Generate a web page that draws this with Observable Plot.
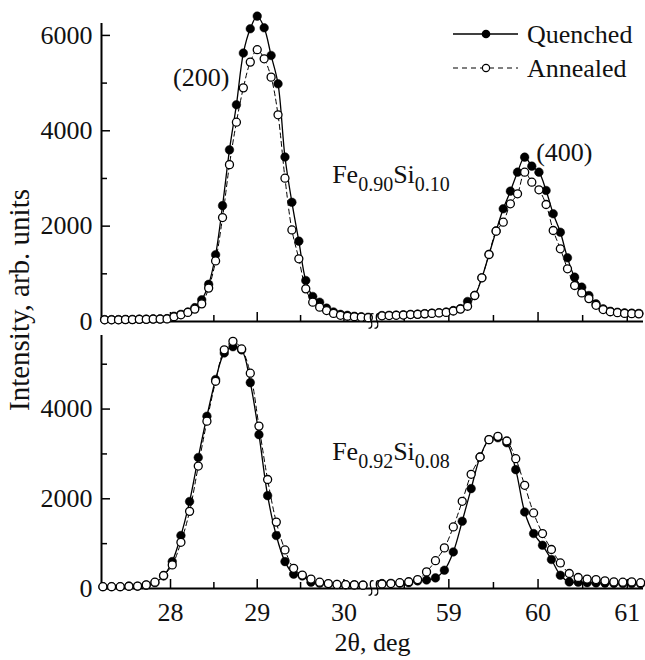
<!DOCTYPE html>
<html><head><meta charset="utf-8">
<script src="https://cdn.jsdelivr.net/npm/d3@7"></script>
<script src="https://cdn.jsdelivr.net/npm/@observablehq/plot@0.6"></script>
<style>
html,body{margin:0;padding:0;background:#fff;}
#chart{position:relative;width:645px;height:660px;overflow:hidden;}
#chart svg{position:absolute;left:0;overflow:visible;}
</style></head><body><div id="chart"></div>
<script>
// ---------- data (2θ in deg, intensity in arb. units) ----------
// Fe0.90Si0.10, (200) region
const topLeftX = [27.24,27.32,27.40,27.48,27.56,27.64,27.72,27.80,27.88,27.96,28.04,28.12,28.20,28.28,28.36,28.44,28.52,28.60,28.68,28.76,28.84,28.92,29.00,29.08,29.16,29.24,29.32,29.40,29.48,29.56,29.64,29.72,29.80,29.88,29.96,30.04,30.12,30.20,30.28];
const topLeftQuenched = [40,40,40,45,45,50,50,55,55,60,110,150,200,290,455,780,1400,2430,3600,4545,5630,6140,6405,6160,5580,4985,3450,2500,1685,860,525,405,280,200,150,130,110,100,90];
const topLeftAnnealed = [35,35,35,40,40,45,45,50,50,55,100,140,190,260,370,700,1270,2180,3290,4180,4900,5440,5700,5510,5125,4335,3005,1920,1315,685,405,300,230,170,130,110,100,90,80];
// Fe0.90Si0.10, (400) region
const topRightX = [58.25,58.33,58.41,58.49,58.57,58.65,58.73,58.81,58.89,58.97,59.05,59.13,59.21,59.29,59.37,59.45,59.53,59.61,59.69,59.77,59.85,59.93,60.01,60.09,60.17,60.25,60.33,60.41,60.49,60.57,60.65,60.73,60.81,60.89,60.97,61.05,61.13];
const topRightQuenched = [125,130,135,140,150,155,165,175,185,200,230,270,420,545,917,1405,1900,2364,2734,3132,3447,3258,3132,2748,2259,1873,1336,930,720,545,370,265,215,195,180,175,170];
const topRightAnnealed = [120,125,130,135,145,150,160,170,180,190,220,260,320,545,917,1405,1894,2083,2469,2678,3132,2922,2762,2454,1909,1525,1105,755,600,480,340,250,205,185,170,165,160];
// Fe0.92Si0.08, (200) region
const botLeftX = [27.22,27.32,27.42,27.52,27.62,27.72,27.82,27.92,28.02,28.12,28.22,28.32,28.42,28.52,28.62,28.72,28.82,28.92,29.02,29.12,29.22,29.32,29.42,29.52,29.62,29.72,29.82,29.92,30.02,30.12,30.22];
const botLeftQuenched = [40,40,40,50,50,75,130,280,600,1180,1940,2920,3840,4660,5250,5390,5320,4590,3430,2070,1180,600,320,280,140,120,100,90,85,80,75];
const botLeftAnnealed = [40,40,40,50,55,80,140,290,525,1030,1720,2730,3730,4620,5320,5510,5340,4800,3620,2430,1480,860,450,300,210,140,110,90,85,80,75];
// Fe0.92Si0.08, (400) region
const botRightX = [58.25,58.35,58.45,58.55,58.65,58.75,58.85,58.95,59.05,59.15,59.25,59.35,59.45,59.55,59.65,59.75,59.85,59.95,60.05,60.15,60.25,60.35,60.45,60.55,60.65,60.75,60.85,60.95,61.05,61.15];
const botRightQuenched = [110,115,120,130,170,190,236,408,815,1500,2227,2931,3318,3360,3250,2650,1706,1225,964,646,296,147,140,130,125,120,115,110,110,105];
const botRightAnnealed = [100,110,130,150,200,370,620,905,1372,1944,2546,2931,3318,3392,3288,2894,2300,1684,1225,869,570,334,245,210,200,170,147,140,147,130];

// ticks and labels
const xMajorTicks = [28, 29, 30, 59, 60, 61];
const xMinorTicks = [27.5, 28.5, 29.5, 58.5, 59.5, 60.5];
const yMajorTop = [0, 2000, 4000, 6000];
const yMinorTop = [1000, 3000, 5000];
const yMajorBot = [0, 2000, 4000];
const yMinorBot = [1000, 3000, 5000];
const seriesNames = ["Quenched", "Annealed"];
const formulaTop = ["Fe", "0.90", "Si", "0.10"];
const formulaBot = ["Fe", "0.92", "Si", "0.08"];
const peakLabels = [{x: 28.36, v: 5100, text: "(200)"}, {x: 60.30, v: 3520, text: "(400)"}];
const yTitle = "Intensity, arb. units";
const xTitle = "2θ, deg";

// ---------- broken x axis ----------
const FONT = '"Liberation Serif","Times New Roman",serif';
const INK = "#111";
const U0 = 27.204, U1 = 33.455, U_BREAK = 30.353;
const R_ORIGIN = 59, R_U = 31.21, R_SCALE = 1.0288;
const bx = x => x < 45 ? x : R_U + (x - R_ORIGIN) * R_SCALE;

function rows(xs, ys, s) {
  return xs.map((x, i) => ({x, v: ys[i], s, seg: x < 45 ? "L" : "R"}));
}
const topQ = rows(topLeftX, topLeftQuenched, "Q").concat(rows(topRightX, topRightQuenched, "Q"));
const topA = rows(topLeftX, topLeftAnnealed, "A").concat(rows(topRightX, topRightAnnealed, "A"));
const botQ = rows(botLeftX, botLeftQuenched, "Q").concat(rows(botRightX, botRightQuenched, "Q"));
const botA = rows(botLeftX, botLeftAnnealed, "A").concat(rows(botRightX, botRightAnnealed, "A"));

const W = 645, H = 330, ML = 101, MR = 2;
const plotW = W - ML - MR;
const xLabel = new Map(xMajorTicks.map(t => [bx(t), String(t)]));

function panel({Q, A, yMax, mt, mb, yMajor, yMinor, showX}) {
  const plotH = H - mt - mb;
  const marks = [
    Plot.line(Q, {x: d => bx(d.x), y: "v", z: "seg", curve: "catmull-rom", stroke: "#000", strokeWidth: 1.3}),
    Plot.line(A, {x: d => bx(d.x), y: "v", z: "seg", curve: "catmull-rom", stroke: "#000", strokeWidth: 1, strokeDasharray: "5,3.5"}),
    Plot.ruleX([U0], {stroke: "#000", strokeWidth: 2}),
    Plot.ruleY([0], {stroke: "#000", strokeWidth: 2}),
    Plot.tickX(xMajorTicks.map(bx), {x: d => d, insetTop: plotH - 9, stroke: "#000", strokeWidth: 1.5}),
    Plot.tickX(xMinorTicks.map(bx), {x: d => d, insetTop: plotH - 6, stroke: "#000", strokeWidth: 1.5}),
    Plot.tickY(yMajor, {y: d => d, insetRight: plotW - 9, stroke: "#000", strokeWidth: 1.5}),
    Plot.tickY(yMinor, {y: d => d, insetRight: plotW - 6, stroke: "#000", strokeWidth: 1.5}),
    Plot.axisY({ticks: yMajor, tickSize: 0, tickPadding: 9, tickFormat: d => String(d), label: null, fontSize: 26, fill: INK}),
    Plot.dot(Q, {x: d => bx(d.x), y: "v", r: 4.3, fill: "#000", stroke: "#000", strokeWidth: 0.5}),
    Plot.dot(A, {x: d => bx(d.x), y: "v", r: 4, fill: "#fff", stroke: "#000", strokeWidth: 1.3})
  ];
  if (showX) {
    marks.push(Plot.axisX({ticks: xMajorTicks.map(bx), tickSize: 0, tickPadding: 14, tickFormat: d => xLabel.get(d), label: null, fontSize: 26, fill: INK}));
  }
  const svg = Plot.plot({
    width: W, height: H,
    marginLeft: ML, marginRight: MR, marginTop: mt, marginBottom: mb,
    x: {type: "linear", domain: [U0, U1], axis: null},
    y: {type: "linear", domain: [0, yMax], axis: null},
    style: {fontFamily: FONT, fontSize: "26px", color: INK, background: "transparent", overflow: "visible"},
    marks
  });
  // axis-break squiggle "ʃʃ" placed through the panel's scales
  const cx = svg.scale("x").apply(U_BREAK), cy = svg.scale("y").apply(0);
  const g = d3.select(svg).append("g").attr("fill", "none").attr("stroke", "#000").attr("stroke-width", 1.3);
  for (const off of [-3, 3]) {
    const x = cx + off;
    g.append("path").attr("d",
      `M${x + 2.5},${cy - 7} C${x - 1},${cy - 9} ${x - 1.5},${cy - 3} ${x},${cy} C${x + 1.5},${cy + 3} ${x + 1},${cy + 8} ${x - 2.5},${cy + 7}`);
  }
  return svg;
}

const chart = document.getElementById("chart");
const topSvg = panel({Q: topQ, A: topA, yMax: 6250, mt: 23, mb: 9, yMajor: yMajorTop, yMinor: yMinorTop, showX: false});
topSvg.style.top = "0px";
const botSvg = panel({Q: botQ, A: botA, yMax: 5640, mt: 5, mb: 72, yMajor: yMajorBot, yMinor: yMinorBot, showX: true});
botSvg.style.top = H + "px";
chart.appendChild(topSvg);
chart.appendChild(botSvg);

// peak labels in top panel (data coordinates through the panel's scales)
{
  const sx = topSvg.scale("x"), sy = topSvg.scale("y");
  const g = d3.select(topSvg).append("g").attr("font-family", FONT).attr("font-size", 26).attr("fill", INK).attr("text-anchor", "middle");
  for (const p of peakLabels) {
    g.append("text").attr("x", sx.apply(bx(p.x))).attr("y", sy.apply(p.v)).attr("dy", "0.32em").text(p.text);
  }
}

// composition labels with subscripts
function formula(svg, parts, xData, vData) {
  const sx = svg.scale("x"), sy = svg.scale("y");
  const t = d3.select(svg).append("text")
    .attr("x", sx.apply(bx(xData))).attr("y", sy.apply(vData))
    .attr("text-anchor", "start")
    .attr("font-family", FONT).attr("font-size", 26).attr("fill", INK);
  parts.forEach((p, i) => {
    const sub = i % 2 === 1;
    t.append("tspan").attr("font-size", sub ? 20 : 26).attr("dy", i === 0 ? 0 : (sub ? 8 : -8)).text(p);
  });
}
formula(topSvg, formulaTop, 29.87, 2894);
formula(botSvg, formulaBot, 29.87, 2853);

// overlay: axis titles and legend
const ov = d3.select(chart).append("svg").attr("width", W).attr("height", 660).style("top", "0px")
  .attr("font-family", FONT).attr("fill", INK);
ov.append("text").attr("transform", "rotate(-90)").attr("x", -300).attr("y", 29)
  .attr("text-anchor", "middle").attr("font-size", 29).text(yTitle);
ov.append("text").attr("x", 372.5).attr("y", 651).attr("text-anchor", "middle").attr("font-size", 26).text(xTitle);

const lg = ov.append("g");
lg.append("line").attr("x1", 453).attr("x2", 518).attr("y1", 34).attr("y2", 34).attr("stroke", "#000").attr("stroke-width", 1.3);
lg.append("circle").attr("cx", 486).attr("cy", 34).attr("r", 4.3).attr("fill", "#000");
lg.append("text").attr("x", 527).attr("y", 43).attr("font-size", 26).text(seriesNames[0]);
lg.append("line").attr("x1", 453).attr("x2", 518).attr("y1", 68).attr("y2", 68).attr("stroke", "#000").attr("stroke-width", 1).attr("stroke-dasharray", "5,4");
lg.append("circle").attr("cx", 486).attr("cy", 68).attr("r", 3.6).attr("fill", "#fff").attr("stroke", "#000").attr("stroke-width", 1.2);
lg.append("text").attr("x", 527).attr("y", 77).attr("font-size", 26).text(seriesNames[1]);
</script>
</body></html>
